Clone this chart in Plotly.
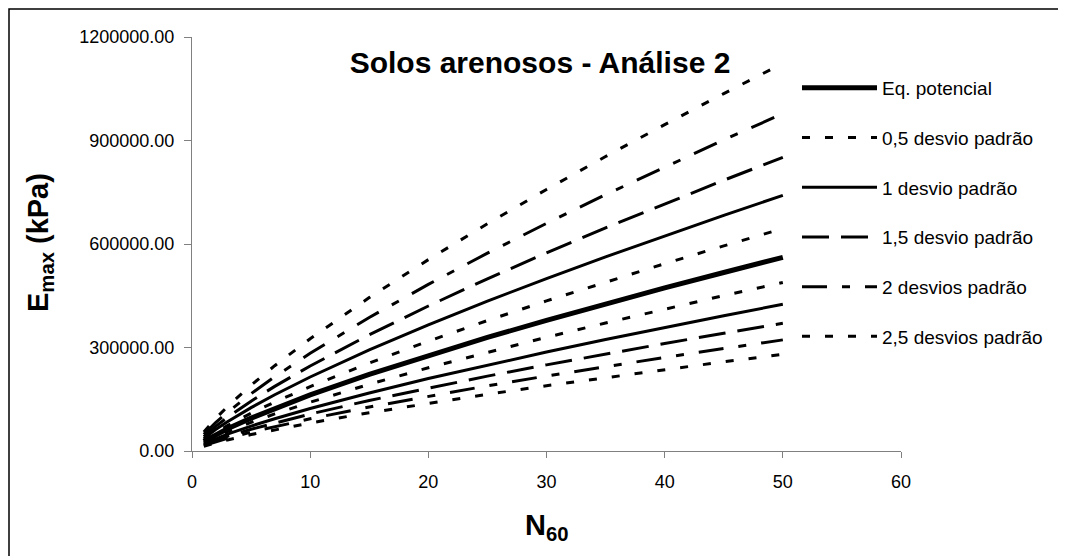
import plotly.graph_objects as go

N60 = [1, 2, 3, 5, 7, 10, 15, 20, 25, 30, 35, 40, 45, 50]

eq_potencial = [27600, 47060, 64310, 95300, 123500, 162500, 222100, 277100, 329100, 378700, 426400, 472600, 517500, 561200]

dp05_sup = [31710, 54070, 73890, 109490, 141890, 186700, 255170, 318360, 378100, 435090, 489890, 542970, 594560, 644760]
dp05_inf = [24020, 40960, 55980, 82950, 107490, 141440, 193320, 241190, 286450, 329620, 371140, 411350, 450430, 488470]

dp1_sup = [36430, 62120, 84890, 125800, 163020, 214500, 293170, 365770, 434410, 499880, 562850, 623830, 683100, 740780]
dp1_inf = [20910, 35650, 48720, 72200, 93560, 123110, 168260, 209930, 249330, 286900, 323040, 358040, 392060, 425170]

dp15_sup = [41860, 71370, 97530, 144530, 187300, 246450, 336840, 420250, 499110, 574340, 646680, 716740, 784840, 851120]
dp15_inf = [18200, 31030, 42410, 62840, 81430, 107150, 146450, 182720, 217010, 249710, 281170, 311630, 341240, 370050]

dp2_sup = [48090, 82000, 112050, 166050, 215190, 283140, 386990, 482820, 573420, 659850, 742960, 823460, 901690, 977830]
dp2_inf = [15840, 27010, 36910, 54690, 70880, 93260, 127470, 159030, 188870, 217340, 244710, 271230, 297000, 322070]

dp25_sup = [55250, 94210, 128740, 190780, 247230, 325310, 444620, 554730, 658830, 758120, 853610, 946100, 1035980, 1123470]
dp25_inf = [13790, 23510, 32120, 47600, 61690, 81170, 110940, 138410, 164390, 189160, 212990, 236070, 258490, 280320]

series_names = ["Eq. potencial", "0,5 desvio padrão", "1 desvio padrão",
                "1,5 desvio padrão", "2 desvios padrão", "2,5 desvios padrão"]

FONT = "Liberation Sans, Arial, sans-serif"

styles = [
    dict(width=5, dash="solid"),
    dict(width=3, dash="8px,15px"),
    dict(width=3, dash="solid"),
    dict(width=3, dash="27px,12px"),
    dict(width=3, dash="25px,15px,8px,15px"),
    dict(width=3, dash="8px,15px"),
]

groups = [
    [eq_potencial],
    [dp05_sup, dp05_inf],
    [dp1_sup, dp1_inf],
    [dp15_sup, dp15_inf],
    [dp2_sup, dp2_inf],
    [dp25_sup, dp25_inf],
]

fig = go.Figure()
for i, (name, st, grp) in enumerate(zip(series_names, styles, groups)):
    for j, ys in enumerate(grp):
        fig.add_trace(go.Scatter(
            x=N60, y=ys, mode="lines", name=name,
            legendgroup=name, showlegend=(j == 0),
            line=dict(color="black", width=st["width"], dash=st["dash"]),
        ))

# page has an 8px body margin; plot area at page x 192..901, y 37..451
L, T, R, B = 184, 29, 173, 113
PW, PH = 1066 - L - R, 556 - T - B

fig.update_layout(
    width=1066, height=556,
    margin=dict(l=L, r=R, t=T, b=B, autoexpand=False),
    paper_bgcolor="white", plot_bgcolor="white",
    font=dict(family=FONT, size=18, color="black"),
    title=dict(text="<b>Solos arenosos - Análise 2</b>", x=(532 - L) / PW, xref="paper",
               xanchor="center", y=1 - 54 / 556, yanchor="middle",
               font=dict(size=30, family=FONT, color="black")),
    showlegend=True,
    legend=dict(x=(789 - L) / PW, y=(T + PH - 61) / PH, xanchor="left", yanchor="top",
                bgcolor="rgba(0,0,0,0)", borderwidth=0, tracegroupgap=22,
                itemwidth=75, font=dict(size=19, family=FONT, color="black")),
    xaxis=dict(range=[0, 60], dtick=10, tick0=0, showgrid=False, zeroline=False,
               showline=True, linecolor="#808080", linewidth=1,
               ticks="outside", ticklen=6, tickcolor="#808080", ticklabelstandoff=8,
               tickfont=dict(size=18, family=FONT, color="black")),
    yaxis=dict(range=[0, 1200000], dtick=300000, tick0=0, showgrid=False, zeroline=False,
               showline=True, linecolor="#808080", linewidth=1,
               ticks="outside", ticklen=7, tickcolor="#808080", tickformat=".2f",
               ticklabelstandoff=6,
               tickfont=dict(size=18, family=FONT, color="black")),
    annotations=[
        dict(text="<b>E<sub>max</sub> (kPa)</b>", xref="paper", yref="paper",
             x=(32 - L) / PW, y=(T + PH - 235) / PH, xanchor="center", yanchor="middle",
             textangle=-90, showarrow=False, font=dict(size=29, family=FONT, color="black")),
        dict(text="<b>N<sub>60</sub></b>", xref="paper", yref="paper",
             x=(539 - L) / PW, y=(T + PH - 519) / PH, xanchor="center", yanchor="middle",
             showarrow=False, font=dict(size=29, family=FONT, color="black")),
    ],
    shapes=[dict(type="rect", xref="paper", yref="paper",
                 x0=(1 - L) / PW, x1=(1053 - L) / PW,
                 y0=(T + PH - 562) / PH, y1=(T + PH - 1) / PH,
                 line=dict(color="black", width=1.5), fillcolor="rgba(0,0,0,0)")],
)

fig.write_html("out.html")
